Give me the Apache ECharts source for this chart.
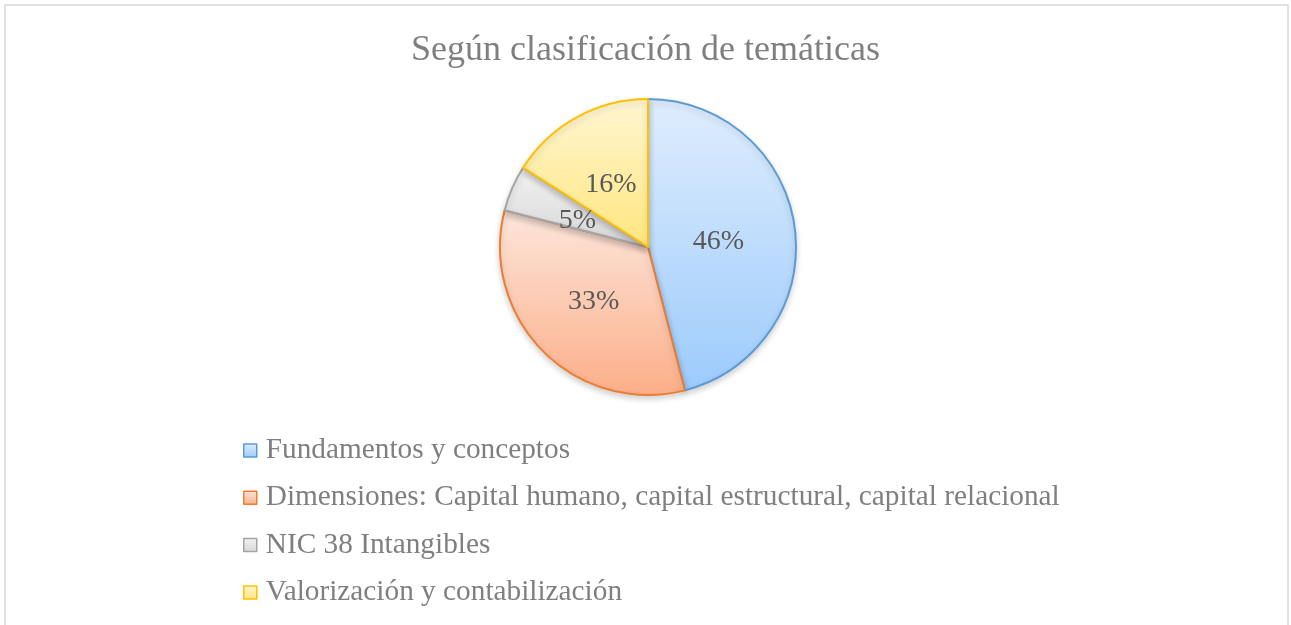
<!DOCTYPE html>
<html>
<head>
<meta charset="utf-8">
<script src="https://cdn.jsdelivr.net/npm/echarts@6/dist/echarts.min.js"></script>
<style>
  html, body { margin: 0; padding: 0; background: #fff; }
  #chart { width: 1291px; height: 625px; }
</style>
</head>
<body>
<div id="chart"></div>
<script>
// datos del gráfico
var titleText = 'Según clasificación de temáticas';
var categories = [
  'Fundamentos y conceptos',
  'Dimensiones: Capital humano, capital estructural, capital relacional',
  'NIC 38 Intangibles',
  'Valorización y contabilización'
];
var values = [46, 33, 5, 16];

// colores: borde, degradado arriba, degradado abajo
var borderColors = ['#5b9bd5', '#ed7d31', '#a5a5a5', '#ffc000'];
var topColors = ['#dfedfd', '#fde6dc', '#f2f2f2', '#fff6d2'];
var bottomColors = ['#9ccbfc', '#fcae88', '#d6d6d6', '#ffe67e'];
// ajuste fino de la posición de las etiquetas
var labelOffsets = [[-6, 4], [0, 0], [0, 4], [0, 5]];

function grad(i) {
  return new echarts.graphic.LinearGradient(0, 0, 0, 1, [
    { offset: 0, color: topColors[i] },
    { offset: 1, color: bottomColors[i] }
  ]);
}

var pieData = categories.map(function (name, i) {
  return {
    name: name,
    value: values[i],
    itemStyle: { color: grad(i), borderColor: borderColors[i] },
    label: { offset: labelOffsets[i] }
  };
});

var chart = echarts.init(document.getElementById('chart'));
chart.setOption({
  animation: false,
  title: {
    text: titleText,
    left: 'center',
    top: 28,
    textStyle: {
      fontFamily: 'Liberation Serif',
      fontSize: 36,
      fontWeight: 'normal',
      color: '#7f7f7f'
    }
  },
  graphic: [{
    type: 'rect',
    shape: { x: 5, y: 5, width: 1283, height: 640 },
    style: { fill: 'none', stroke: '#d9d9d9', lineWidth: 1.5 },
    silent: true
  }],
  legend: {
    orient: 'vertical',
    left: 243,
    top: 436,
    padding: 0,
    itemWidth: 13,
    itemHeight: 13,
    itemGap: 18.3,
    icon: 'rect',
    data: categories.map(function (name, i) {
      return {
        name: name,
        itemStyle: { color: grad(i), borderColor: borderColors[i], borderWidth: 1.5 }
      };
    }),
    textStyle: {
      fontFamily: 'Liberation Serif',
      fontSize: 29.3,
      color: '#7f7f7f',
      padding: [0, 0, 0, 4]
    }
  },
  series: [{
    type: 'pie',
    center: [648, 247],
    radius: 148,
    startAngle: 90,
    clockwise: true,
    avoidLabelOverlap: false,
    data: pieData,
    itemStyle: {
      borderWidth: 2,
      shadowBlur: 6,
      shadowOffsetY: 3,
      shadowColor: 'rgba(0,0,0,0.18)'
    },
    label: {
      show: true,
      position: 'inside',
      formatter: '{d}%',
      fontFamily: 'Liberation Serif',
      fontSize: 28,
      color: '#595959'
    },
    labelLine: { show: false },
    emphasis: { disabled: true }
  }]
});
</script>
</body>
</html>
